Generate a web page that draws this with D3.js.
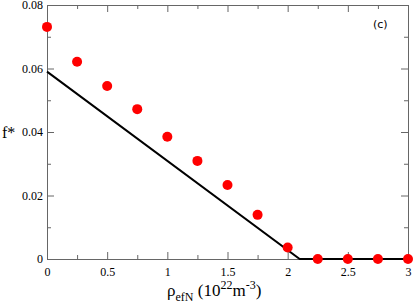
<!DOCTYPE html>
<html>
<head>
<meta charset="utf-8">
<script src="https://cdn.jsdelivr.net/npm/d3@7"></script>
<style>
body { margin: 0; background: #fff; }
svg { display: block; }
.tick text { font-family: "Liberation Serif", "DejaVu Serif", serif; font-size: 12px; fill: #000; }
</style>
</head>
<body>
<svg width="415" height="307"></svg>
<script>
const svg = d3.select("svg");

// data
const rho = [0, 0.25, 0.5, 0.75, 1, 1.25, 1.5, 1.75, 2, 2.25, 2.5, 2.75, 3];
const fStar = [0.0731, 0.0621, 0.0545, 0.0472, 0.0385, 0.0309, 0.0233, 0.0139, 0.0036, 0, 0, 0, 0];
const lineX = [0, 2.1, 3];
const lineY = [0.059, 0, 0];
const xTicks = [0, 0.5, 1, 1.5, 2, 2.5, 3];
const yTicks = [0, 0.02, 0.04, 0.06, 0.08];

const margin = {top: 5, right: 7, bottom: 48, left: 47};
const width = +svg.attr("width"), height = +svg.attr("height");
const innerWidth = width - margin.left - margin.right;
const innerHeight = height - margin.top - margin.bottom;

const x = d3.scaleLinear().domain([0, 3]).range([0, innerWidth]);
const y = d3.scaleLinear().domain([0, 0.08]).range([innerHeight, 0]);

const g = svg.append("g").attr("transform", `translate(${margin.left},${margin.top})`);

const minorX = d3.range(0.25, 3, 0.5);
const minorY = d3.range(0.01, 0.08, 0.02);
const axisColor = "#666";

function styleAxis(sel) {
  sel.select(".domain").attr("stroke", axisColor);
  sel.selectAll(".tick line").attr("stroke", axisColor);
}
// axes with no labels: drop the empty text nodes
function noText(sel) {
  sel.selectAll(".tick text").remove();
}

// bottom
g.append("g").attr("transform", `translate(0,${innerHeight})`)
  .call(d3.axisBottom(x).tickValues(xTicks).tickFormat(d3.format("")).tickSizeInner(-7).tickSizeOuter(0).tickPadding(8))
  .call(styleAxis);
g.append("g").attr("transform", `translate(0,${innerHeight})`)
  .call(d3.axisBottom(x).tickValues(minorX).tickSizeInner(-4).tickSizeOuter(0))
  .call(styleAxis).call(noText).select(".domain").remove();
// top
g.append("g")
  .call(d3.axisTop(x).tickValues(xTicks).tickSizeInner(-7).tickSizeOuter(0))
  .call(styleAxis).call(noText);
g.append("g")
  .call(d3.axisTop(x).tickValues(minorX).tickSizeInner(-4).tickSizeOuter(0))
  .call(styleAxis).call(noText).select(".domain").remove();
// left
g.append("g")
  .call(d3.axisLeft(y).tickValues(yTicks).tickFormat(d => d === 0 ? "0" : d3.format(".2f")(d)).tickSizeInner(-7).tickSizeOuter(0).tickPadding(4))
  .call(styleAxis);
g.append("g")
  .call(d3.axisLeft(y).tickValues(minorY).tickSizeInner(-4).tickSizeOuter(0))
  .call(styleAxis).call(noText).select(".domain").remove();
// right
g.append("g").attr("transform", `translate(${innerWidth},0)`)
  .call(d3.axisRight(y).tickValues(yTicks).tickSizeInner(-7).tickSizeOuter(0))
  .call(styleAxis).call(noText);
g.append("g").attr("transform", `translate(${innerWidth},0)`)
  .call(d3.axisRight(y).tickValues(minorY).tickSizeInner(-4).tickSizeOuter(0))
  .call(styleAxis).call(noText).select(".domain").remove();

// black line
const lineGen = d3.line().x(d => x(d[0])).y(d => y(d[1]));
g.append("path")
  .attr("d", lineGen(d3.zip(lineX, lineY)))
  .attr("fill", "none")
  .attr("stroke", "black")
  .attr("stroke-width", 2);

// red points
g.selectAll("circle.pt")
  .data(d3.zip(rho, fStar))
  .join("circle")
  .attr("class", "pt")
  .attr("cx", d => x(d[0]))
  .attr("cy", d => y(d[1]))
  .attr("r", 5)
  .attr("fill", "#ff0000");

// panel label
svg.append("text")
  .attr("x", 373).attr("y", 28)
  .attr("font-family", "DejaVu Sans, sans-serif")
  .attr("font-size", 11)
  .text("(c)");

// y label
svg.append("text")
  .attr("x", 2).attr("y", 138)
  .attr("font-family", "Liberation Serif, serif")
  .attr("font-size", 16)
  .text("f*");

// x label
const xl = svg.append("text")
  .attr("x", 167).attr("y", 296)
  .attr("font-family", "Liberation Serif, serif")
  .attr("font-size", 17);
xl.append("tspan").text("ρ");
xl.append("tspan").attr("font-size", 12).attr("dy", 5).text("efN");
xl.append("tspan").attr("dy", -5).text(" (10");
xl.append("tspan").attr("font-size", 12).attr("dy", -7).text("22");
xl.append("tspan").attr("dy", 7).text("m");
xl.append("tspan").attr("font-size", 12).attr("dy", -7).text("-3");
xl.append("tspan").attr("dy", 7).text(")");
</script>
</body>
</html>
